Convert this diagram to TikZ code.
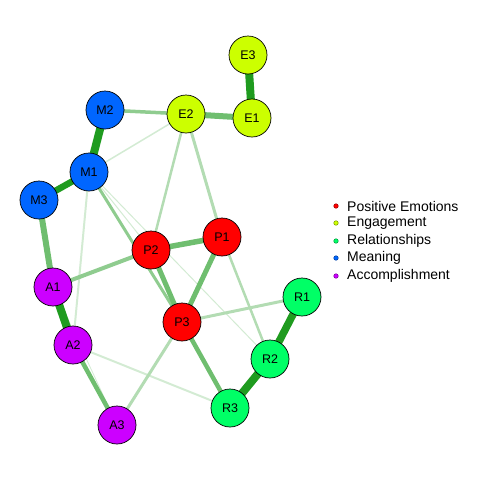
\documentclass[tikz,border=0pt]{standalone}
\usepackage{fontspec}
\setmainfont{Liberation Sans}
\pgfdeclarelayer{edges}
\pgfsetlayers{edges,main}
\begin{document}
\begin{tikzpicture}[x=1pt,y=-1pt,
  nd/.style={circle,draw=black,line width=0.7pt,minimum size=38pt,inner sep=0pt,font=\fontsize{12.5}{12.5}\selectfont},
  pe/.style={nd,fill=PEc},
  en/.style={nd,fill=ENc},
  re/.style={nd,fill=REc},
  me/.style={nd,fill=MEc},
  ac/.style={nd,fill=ACc},
  ed/.style={line cap=butt},
  strong/.style={ed,draw=eStrong,line width=7.5pt},
  medium/.style={ed,draw=eMed,line width=5pt},
  mlight/.style={ed,draw=eMedL,line width=3.5pt},
  light/.style={ed,draw=eLight,line width=3pt},
  faint/.style={ed,draw=eFaint,line width=1.5pt},
  lgdot/.style={circle,inner sep=0pt,minimum size=4.5pt,line width=0.5pt},
  lgtext/.style={anchor=west,inner sep=0pt,font=\fontsize{14}{14}\selectfont}
]
\definecolor{PEc}{HTML}{FF0000}
\definecolor{ENc}{HTML}{CCFF00}
\definecolor{REc}{HTML}{00FF66}
\definecolor{MEc}{HTML}{0066FF}
\definecolor{ACc}{HTML}{CC00FF}
\definecolor{eStrong}{HTML}{1F9B1F}
\definecolor{eMed}{HTML}{6FBE6F}
\definecolor{eMedL}{HTML}{8FCC8F}
\definecolor{eLight}{HTML}{B3DCB3}
\definecolor{eFaint}{HTML}{D3EBD3}
\useasboundingbox (0,0) rectangle (480,480);
% nodes
\node[en] (E3) at (248,55) {E3};
\node[en] (E1) at (252,118) {E1};
\node[en] (E2) at (186,114) {E2};
\node[me] (M2) at (105,110) {M2};
\node[me] (M1) at (89,172) {M1};
\node[me] (M3) at (39,200) {M3};
\node[pe] (P2) at (151,250) {P2};
\node[pe] (P1) at (222,237) {P1};
\node[ac] (A1) at (53,287) {A1};
\node[pe] (P3) at (182,322) {P3};
\node[re] (R1) at (302,297) {R1};
\node[ac] (A2) at (73,345) {A2};
\node[re] (R2) at (270,359) {R2};
\node[re] (R3) at (230,408) {R3};
\node[ac] (A3) at (117,425) {A3};
% edges (weak first), behind nodes
\begin{pgfonlayer}{edges}
\draw[faint,line width=0.8pt] (A1.center) -- (A3.center);
\draw[faint,line width=1pt] (M1.center) -- (P2.center);
\draw[faint,line width=1pt] (M1.center) -- (R2.center);
\draw[faint] (M1.center) -- (E2.center);
\draw[faint,line width=2pt] (M1.center) -- (A2.center);
\draw[faint,line width=2pt] (A2.center) -- (R3.center);
\draw[light,line width=2.5pt] (E2.center) -- (P2.center);
\draw[light] (E2.center) -- (P1.center);
\draw[light,line width=2.5pt] (P1.center) -- (R2.center);
\draw[light] (P3.center) -- (R1.center);
\draw[light] (P3.center) -- (A3.center);
\draw[mlight,line width=3pt] (M1.center) -- (P3.center);
\draw[mlight] (M2.center) -- (E2.center);
\draw[mlight,line width=4pt] (A1.center) -- (P2.center);
\draw[medium,line width=4.5pt] (P3.center) -- (R3.center);
\draw[medium,line width=4.5pt] (A2.center) -- (A3.center);
\draw[medium] (P1.center) -- (P3.center);
\draw[medium] (P2.center) -- (P3.center);
\draw[medium,line width=5.5pt] (P2.center) -- (P1.center);
\draw[medium,line width=6pt] (M3.center) -- (A1.center);
\draw[medium,line width=6pt] (E2.center) -- (E1.center);
\draw[strong,line width=6.5pt] (M1.center) -- (M3.center);
\draw[strong] (R1.center) -- (R2.center);
\draw[strong,line width=8pt] (R2.center) -- (R3.center);
\draw[strong,line width=8pt] (A1.center) -- (A2.center);
\draw[strong,line width=8pt] (M2.center) -- (M1.center);
\draw[strong,line width=8pt] (E3.center) -- (E1.center);
\end{pgfonlayer}
% legend
\node[lgdot,fill=PEc,draw=PEc!60!black] (L1) at (336,206) {};
\node[lgdot,fill=ENc,draw=ENc!60!black] (L2) at (336,223) {};
\node[lgdot,fill=REc,draw=REc!60!black] (L3) at (336,241) {};
\node[lgdot,fill=MEc,draw=MEc!60!black] (L4) at (336,258) {};
\node[lgdot,fill=ACc,draw=ACc!60!black] (L5) at (336,276) {};
\node[lgtext] (T1) at (347,206) {Positive Emotions};
\node[lgtext] (T2) at (347,223) {Engagement};
\node[lgtext] (T3) at (347,241) {Relationships};
\node[lgtext] (T4) at (347,258) {Meaning};
\node[lgtext] (T5) at (347,276) {Accomplishment};
\end{tikzpicture}
\end{document}
